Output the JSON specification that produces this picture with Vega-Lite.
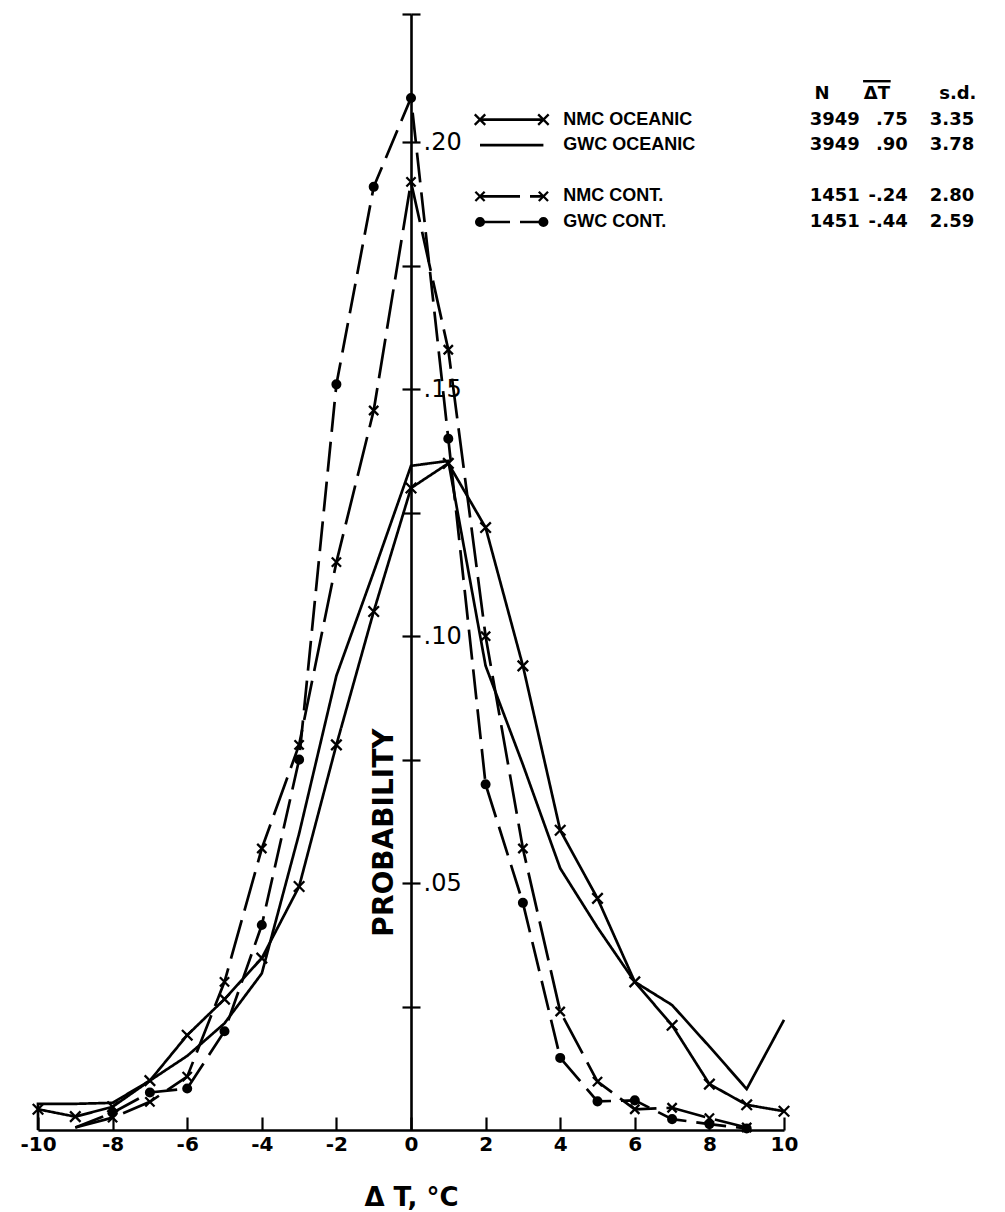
{
  "$schema": "https://vega.github.io/schema/vega-lite/v6.json",
  "width": 746,
  "height": 1116,
  "autosize": {"type": "none"},
  "padding": {"left": 38, "top": 14, "right": 221, "bottom": 82},
  "background": "white",
  "config": {"view": {"stroke": null}, "font": "DejaVu Sans"},
  "datasets": {
    "curves": [
      {"s": "NMC OCEANIC", "i": 0, "x": -10, "p": 0.0042},
      {"s": "NMC OCEANIC", "i": 1, "x": -9, "p": 0.0027},
      {"s": "NMC OCEANIC", "i": 2, "x": -8, "p": 0.0047},
      {"s": "NMC OCEANIC", "i": 3, "x": -7, "p": 0.010},
      {"s": "NMC OCEANIC", "i": 4, "x": -6, "p": 0.0192},
      {"s": "NMC OCEANIC", "i": 5, "x": -5, "p": 0.0265},
      {"s": "NMC OCEANIC", "i": 6, "x": -4, "p": 0.0348},
      {"s": "NMC OCEANIC", "i": 7, "x": -3, "p": 0.0493},
      {"s": "NMC OCEANIC", "i": 8, "x": -2, "p": 0.078},
      {"s": "NMC OCEANIC", "i": 9, "x": -1, "p": 0.105},
      {"s": "NMC OCEANIC", "i": 10, "x": 0, "p": 0.130},
      {"s": "NMC OCEANIC", "i": 11, "x": 1, "p": 0.135},
      {"s": "NMC OCEANIC", "i": 12, "x": 2, "p": 0.122},
      {"s": "NMC OCEANIC", "i": 13, "x": 3, "p": 0.094},
      {"s": "NMC OCEANIC", "i": 14, "x": 4, "p": 0.0607},
      {"s": "NMC OCEANIC", "i": 15, "x": 5, "p": 0.0469},
      {"s": "NMC OCEANIC", "i": 16, "x": 6, "p": 0.030},
      {"s": "NMC OCEANIC", "i": 17, "x": 7, "p": 0.0212},
      {"s": "NMC OCEANIC", "i": 18, "x": 8, "p": 0.0093},
      {"s": "NMC OCEANIC", "i": 19, "x": 9, "p": 0.0051},
      {"s": "NMC OCEANIC", "i": 20, "x": 10, "p": 0.0038},
      {"s": "GWC OCEANIC", "i": 0, "x": -10, "p": 0},
      {"s": "GWC OCEANIC", "i": 1, "x": -10, "p": 0.0053},
      {"s": "GWC OCEANIC", "i": 2, "x": -9, "p": 0.0053},
      {"s": "GWC OCEANIC", "i": 3, "x": -8, "p": 0.0055},
      {"s": "GWC OCEANIC", "i": 4, "x": -7, "p": 0.0100},
      {"s": "GWC OCEANIC", "i": 5, "x": -6, "p": 0.0150},
      {"s": "GWC OCEANIC", "i": 6, "x": -5, "p": 0.0216},
      {"s": "GWC OCEANIC", "i": 7, "x": -4, "p": 0.0317},
      {"s": "GWC OCEANIC", "i": 8, "x": -3, "p": 0.060},
      {"s": "GWC OCEANIC", "i": 9, "x": -2, "p": 0.092},
      {"s": "GWC OCEANIC", "i": 10, "x": -1, "p": 0.113},
      {"s": "GWC OCEANIC", "i": 11, "x": 0, "p": 0.1345},
      {"s": "GWC OCEANIC", "i": 12, "x": 1, "p": 0.1355},
      {"s": "GWC OCEANIC", "i": 13, "x": 2, "p": 0.094},
      {"s": "GWC OCEANIC", "i": 14, "x": 3, "p": 0.074},
      {"s": "GWC OCEANIC", "i": 15, "x": 4, "p": 0.053},
      {"s": "GWC OCEANIC", "i": 16, "x": 5, "p": 0.041},
      {"s": "GWC OCEANIC", "i": 17, "x": 6, "p": 0.030},
      {"s": "GWC OCEANIC", "i": 18, "x": 7, "p": 0.0253},
      {"s": "GWC OCEANIC", "i": 19, "x": 8, "p": 0.0169},
      {"s": "GWC OCEANIC", "i": 20, "x": 9, "p": 0.0083},
      {"s": "GWC OCEANIC", "i": 21, "x": 10, "p": 0.0223},
      {"s": "NMC CONT.", "i": 0, "x": -9, "p": 0.0005},
      {"s": "NMC CONT.", "i": 1, "x": -8, "p": 0.0025},
      {"s": "NMC CONT.", "i": 2, "x": -7, "p": 0.0057},
      {"s": "NMC CONT.", "i": 3, "x": -6, "p": 0.0108},
      {"s": "NMC CONT.", "i": 4, "x": -5, "p": 0.030},
      {"s": "NMC CONT.", "i": 5, "x": -4, "p": 0.057},
      {"s": "NMC CONT.", "i": 6, "x": -3, "p": 0.078},
      {"s": "NMC CONT.", "i": 7, "x": -2, "p": 0.115},
      {"s": "NMC CONT.", "i": 8, "x": -1, "p": 0.1457},
      {"s": "NMC CONT.", "i": 9, "x": 0, "p": 0.192},
      {"s": "NMC CONT.", "i": 10, "x": 1, "p": 0.158},
      {"s": "NMC CONT.", "i": 11, "x": 2, "p": 0.100},
      {"s": "NMC CONT.", "i": 12, "x": 3, "p": 0.057},
      {"s": "NMC CONT.", "i": 13, "x": 4, "p": 0.024},
      {"s": "NMC CONT.", "i": 14, "x": 5, "p": 0.0098},
      {"s": "NMC CONT.", "i": 15, "x": 6, "p": 0.0042},
      {"s": "NMC CONT.", "i": 16, "x": 7, "p": 0.0045},
      {"s": "NMC CONT.", "i": 17, "x": 8, "p": 0.0024},
      {"s": "NMC CONT.", "i": 18, "x": 9, "p": 0.0005},
      {"s": "GWC CONT.", "i": 0, "x": -9, "p": 0.0005},
      {"s": "GWC CONT.", "i": 1, "x": -8, "p": 0.0035},
      {"s": "GWC CONT.", "i": 2, "x": -7, "p": 0.0076},
      {"s": "GWC CONT.", "i": 3, "x": -6, "p": 0.0084},
      {"s": "GWC CONT.", "i": 4, "x": -5, "p": 0.020},
      {"s": "GWC CONT.", "i": 5, "x": -4, "p": 0.0415},
      {"s": "GWC CONT.", "i": 6, "x": -3, "p": 0.075},
      {"s": "GWC CONT.", "i": 7, "x": -2, "p": 0.151},
      {"s": "GWC CONT.", "i": 8, "x": -1, "p": 0.191},
      {"s": "GWC CONT.", "i": 9, "x": 0, "p": 0.209},
      {"s": "GWC CONT.", "i": 10, "x": 1, "p": 0.140},
      {"s": "GWC CONT.", "i": 11, "x": 2, "p": 0.070},
      {"s": "GWC CONT.", "i": 12, "x": 3, "p": 0.046},
      {"s": "GWC CONT.", "i": 13, "x": 4, "p": 0.0146},
      {"s": "GWC CONT.", "i": 14, "x": 5, "p": 0.0058},
      {"s": "GWC CONT.", "i": 15, "x": 6, "p": 0.0060},
      {"s": "GWC CONT.", "i": 16, "x": 7, "p": 0.0022},
      {"s": "GWC CONT.", "i": 17, "x": 8, "p": 0.0012},
      {"s": "GWC CONT.", "i": 18, "x": 9, "p": 0.0003}
    ],
    "legend": [
      {"s": "hdr", "name": "", "N": "N", "dT": "\u0394T", "sd": "s.d."},
      {"s": "NMC OCEANIC", "name": "NMC OCEANIC", "N": "3949", "dT": ".75", "sd": "3.35"},
      {"s": "GWC OCEANIC", "name": "GWC OCEANIC", "N": "3949", "dT": ".90", "sd": "3.78"},
      {"s": "NMC CONT.", "name": "NMC CONT.", "N": "1451", "dT": "-.24", "sd": "2.80"},
      {"s": "GWC CONT.", "name": "GWC CONT.", "N": "1451", "dT": "-.44", "sd": "2.59"}
    ]
  },
  "resolve": {"scale": {"y": "independent"}},
  "layer": [
    {
      "data": {"name": "curves"},
      "mark": {"type": "line", "stroke": "black", "strokeWidth": 2.7, "clip": false},
      "encoding": {
        "x": {
          "field": "x", "type": "quantitative",
          "scale": {"domain": [-10, 10], "nice": false, "zero": false},
          "axis": {
            "orient": "bottom",
            "values": [-10, -8, -6, -4, -2, 0, 2, 4, 6, 8, 10],
            "labelExpr": "datum.value < 0 ? '-' + toString(abs(datum.value)) : toString(datum.value)",
            "tickSize": -13, "tickWidth": 2.2, "tickColor": "black",
            "domainColor": "black", "domainWidth": 2.6,
            "labelFont": "DejaVu Sans", "labelFontSize": 20, "labelFontWeight": "bold", "labelColor": "black",
            "labelPadding": 17, "labelFlush": false, "labelOverlap": false,
            "title": "\u0394 T, \u00b0C", "titleFont": "DejaVu Sans", "titleFontSize": 26, "titleFontWeight": "bold", "titleColor": "black",
            "titlePadding": 30, "grid": false
          }
        },
        "y": {
          "field": "p", "type": "quantitative",
          "scale": {"domain": [0, 0.226], "nice": false, "zero": false},
          "axis": {
            "orient": "right", "offset": -373,
            "values": [0.025, 0.05, 0.075, 0.1, 0.125, 0.15, 0.175, 0.2, 0.226],
            "labelExpr": "datum.value > 0.04 && abs(datum.value*20 - round(datum.value*20)) < 0.01 ? replace(format(datum.value, '.2f'), '0.', '.') : ''",
            "tickSize": 9, "tickWidth": 2.2, "tickColor": "black",
            "domainColor": "black", "domainWidth": 2.6,
            "labelFont": "DejaVu Sans", "labelFontSize": 24, "labelColor": "black", "labelPadding": 3,
            "labelBaseline": "middle", "labelFlush": false, "labelOverlap": false,
            "title": "PROBABILITY", "titleAngle": 270, "titleX": -27, "titleY": 818,
            "titleFont": "DejaVu Sans", "titleFontSize": 28, "titleFontWeight": "bold", "titleColor": "black",
            "titleAlign": "center", "titleBaseline": "middle", "grid": false
          }
        },
        "detail": {"field": "s"},
        "order": {"field": "i", "type": "quantitative"},
        "strokeDash": {
          "field": "s", "type": "nominal",
          "scale": {"domain": ["NMC OCEANIC", "GWC OCEANIC", "NMC CONT.", "GWC CONT."], "range": [[1, 0], [1, 0], [40, 10], [30, 10]]},
          "legend": null
        }
      }
    },
    {
      "data": {"name": "curves"},
      "transform": [{"filter": "datum.s == 'NMC OCEANIC' || (datum.s != 'GWC OCEANIC' && datum.x >= -8)"}],
      "mark": {"type": "point", "filled": true, "fill": "black", "stroke": "black", "strokeWidth": 2.3, "opacity": 1, "clip": false},
      "encoding": {
        "x": {"field": "x", "type": "quantitative"},
        "y": {
          "field": "p", "type": "quantitative",
          "scale": {"domain": [0, 0.226], "nice": false, "zero": false},
          "axis": {
            "orient": "left", "offset": -373,
            "values": [0.025, 0.05, 0.075, 0.1, 0.125, 0.15, 0.175, 0.2, 0.226],
            "labels": false, "domain": false, "tickSize": 9, "tickWidth": 2.2, "tickColor": "black",
            "title": null, "grid": false
          }
        },
        "shape": {
          "field": "s", "type": "nominal",
          "scale": {"domain": ["NMC OCEANIC", "NMC CONT.", "GWC CONT."], "range": ["M-1,-1L1,1M-1,1L1,-1", "M-1,-1L1,1M-1,1L1,-1", "circle"]},
          "legend": null
        },
        "size": {
          "field": "s", "type": "ordinal",
          "scale": {"domain": ["NMC OCEANIC", "NMC CONT.", "GWC CONT."], "range": [110, 60, 26]},
          "legend": null
        }
      }
    },
    {
      "data": {"name": "legend"},
      "transform": [{"filter": "datum.s != 'hdr'"}],
      "mark": {"type": "rule", "stroke": "black", "strokeWidth": 2.7},
      "encoding": {
        "x": {"datum": 1.85},
        "x2": {"datum": 3.55},
        "y": {"field": "s", "type": "ordinal", "scale": {"type": "point", "domain": ["bar", "hdr", "h1", "NMC OCEANIC", "h2", "GWC OCEANIC", "h3", "gap", "h4", "NMC CONT.", "h5", "GWC CONT."], "range": [67.2, 208], "padding": 0}, "axis": null},
        "strokeDash": {"field": "s", "type": "nominal", "legend": null}
      }
    },
    {
      "data": {"name": "legend"},
      "transform": [{"filter": "datum.s != 'hdr' && datum.s != 'GWC OCEANIC'"}],
      "mark": {"type": "point", "filled": true, "fill": "black", "stroke": "black", "strokeWidth": 2.3, "opacity": 1},
      "encoding": {
        "x": {"datum": 1.85},
        "y": {"field": "s", "type": "ordinal", "scale": {"type": "point", "domain": ["bar", "hdr", "h1", "NMC OCEANIC", "h2", "GWC OCEANIC", "h3", "gap", "h4", "NMC CONT.", "h5", "GWC CONT."], "range": [67.2, 208], "padding": 0}, "axis": null},
        "shape": {"field": "s", "type": "nominal", "legend": null},
        "size": {"field": "s", "type": "ordinal", "legend": null}
      }
    },
    {
      "data": {"name": "legend"},
      "transform": [{"filter": "datum.s != 'hdr' && datum.s != 'GWC OCEANIC'"}],
      "mark": {"type": "point", "filled": true, "fill": "black", "stroke": "black", "strokeWidth": 2.3, "opacity": 1},
      "encoding": {
        "x": {"datum": 3.55},
        "y": {"field": "s", "type": "ordinal", "scale": {"type": "point", "domain": ["bar", "hdr", "h1", "NMC OCEANIC", "h2", "GWC OCEANIC", "h3", "gap", "h4", "NMC CONT.", "h5", "GWC CONT."], "range": [67.2, 208], "padding": 0}, "axis": null},
        "shape": {"field": "s", "type": "nominal", "legend": null},
        "size": {"field": "s", "type": "ordinal", "legend": null}
      }
    },
    {
      "data": {"name": "legend"},
      "transform": [{"filter": "datum.s != 'hdr'"}],
      "mark": {"type": "text", "align": "left", "baseline": "middle", "font": "Liberation Sans", "fontWeight": "bold", "fontSize": 18, "fill": "black"},
      "encoding": {
        "x": {"datum": 4.08},
        "y": {"field": "s", "type": "ordinal", "scale": {"type": "point", "domain": ["bar", "hdr", "h1", "NMC OCEANIC", "h2", "GWC OCEANIC", "h3", "gap", "h4", "NMC CONT.", "h5", "GWC CONT."], "range": [67.2, 208], "padding": 0}, "axis": null},
        "text": {"field": "name"}
      }
    },
    {
      "data": {"name": "legend"},
      "transform": [{"filter": "datum.s != 'hdr'"}],
      "mark": {"type": "text", "align": "left", "baseline": "middle", "font": "DejaVu Sans", "fontWeight": "bold", "fontSize": 18, "fill": "black"},
      "encoding": {
        "x": {"datum": 10.69},
        "y": {"field": "s", "type": "ordinal", "scale": {"type": "point", "domain": ["bar", "hdr", "h1", "NMC OCEANIC", "h2", "GWC OCEANIC", "h3", "gap", "h4", "NMC CONT.", "h5", "GWC CONT."], "range": [67.2, 208], "padding": 0}, "axis": null},
        "text": {"field": "N"}
      }
    },
    {
      "data": {"name": "legend"},
      "transform": [{"filter": "datum.s != 'hdr'"}],
      "mark": {"type": "text", "align": "right", "baseline": "middle", "font": "DejaVu Sans", "fontWeight": "bold", "fontSize": 18, "fill": "black"},
      "encoding": {
        "x": {"datum": 13.32},
        "y": {"field": "s", "type": "ordinal", "scale": {"type": "point", "domain": ["bar", "hdr", "h1", "NMC OCEANIC", "h2", "GWC OCEANIC", "h3", "gap", "h4", "NMC CONT.", "h5", "GWC CONT."], "range": [67.2, 208], "padding": 0}, "axis": null},
        "text": {"field": "dT"}
      }
    },
    {
      "data": {"name": "legend"},
      "transform": [{"filter": "datum.s != 'hdr'"}],
      "mark": {"type": "text", "align": "left", "baseline": "middle", "font": "DejaVu Sans", "fontWeight": "bold", "fontSize": 18, "fill": "black"},
      "encoding": {
        "x": {"datum": 13.91},
        "y": {"field": "s", "type": "ordinal", "scale": {"type": "point", "domain": ["bar", "hdr", "h1", "NMC OCEANIC", "h2", "GWC OCEANIC", "h3", "gap", "h4", "NMC CONT.", "h5", "GWC CONT."], "range": [67.2, 208], "padding": 0}, "axis": null},
        "text": {"field": "sd"}
      }
    },
    {
      "data": {"name": "legend"},
      "transform": [{"filter": "datum.s == 'hdr'"}],
      "mark": {"type": "text", "align": "center", "baseline": "middle", "font": "DejaVu Sans", "fontWeight": "bold", "fontSize": 18, "fill": "black"},
      "encoding": {
        "x": {"datum": 11.02},
        "y": {"field": "s", "type": "ordinal", "scale": {"type": "point", "domain": ["bar", "hdr", "h1", "NMC OCEANIC", "h2", "GWC OCEANIC", "h3", "gap", "h4", "NMC CONT.", "h5", "GWC CONT."], "range": [67.2, 208], "padding": 0}, "axis": null},
        "text": {"field": "N"}
      }
    },
    {
      "data": {"name": "legend"},
      "transform": [{"filter": "datum.s == 'hdr'"}],
      "mark": {"type": "text", "align": "center", "baseline": "middle", "font": "DejaVu Sans", "fontWeight": "bold", "fontSize": 18, "fill": "black"},
      "encoding": {
        "x": {"datum": 12.49},
        "y": {"field": "s", "type": "ordinal", "scale": {"type": "point", "domain": ["bar", "hdr", "h1", "NMC OCEANIC", "h2", "GWC OCEANIC", "h3", "gap", "h4", "NMC CONT.", "h5", "GWC CONT."], "range": [67.2, 208], "padding": 0}, "axis": null},
        "text": {"field": "dT"}
      }
    },
    {
      "data": {"name": "legend"},
      "transform": [{"filter": "datum.s == 'hdr'"}],
      "mark": {"type": "rule", "stroke": "black", "strokeWidth": 2.4},
      "encoding": {
        "x": {"datum": 12.12},
        "x2": {"datum": 12.86},
        "y": {"datum": "bar", "type": "ordinal", "scale": {"type": "point", "domain": ["bar", "hdr", "h1", "NMC OCEANIC", "h2", "GWC OCEANIC", "h3", "gap", "h4", "NMC CONT.", "h5", "GWC CONT."], "range": [67.2, 208], "padding": 0}, "axis": null}
      }
    },
    {
      "data": {"name": "legend"},
      "transform": [{"filter": "datum.s == 'hdr'"}],
      "mark": {"type": "text", "align": "center", "baseline": "middle", "font": "DejaVu Sans", "fontWeight": "bold", "fontSize": 18, "fill": "black"},
      "encoding": {
        "x": {"datum": 14.66},
        "y": {"field": "s", "type": "ordinal", "scale": {"type": "point", "domain": ["bar", "hdr", "h1", "NMC OCEANIC", "h2", "GWC OCEANIC", "h3", "gap", "h4", "NMC CONT.", "h5", "GWC CONT."], "range": [67.2, 208], "padding": 0}, "axis": null},
        "text": {"field": "sd"}
      }
    }
  ]
}
